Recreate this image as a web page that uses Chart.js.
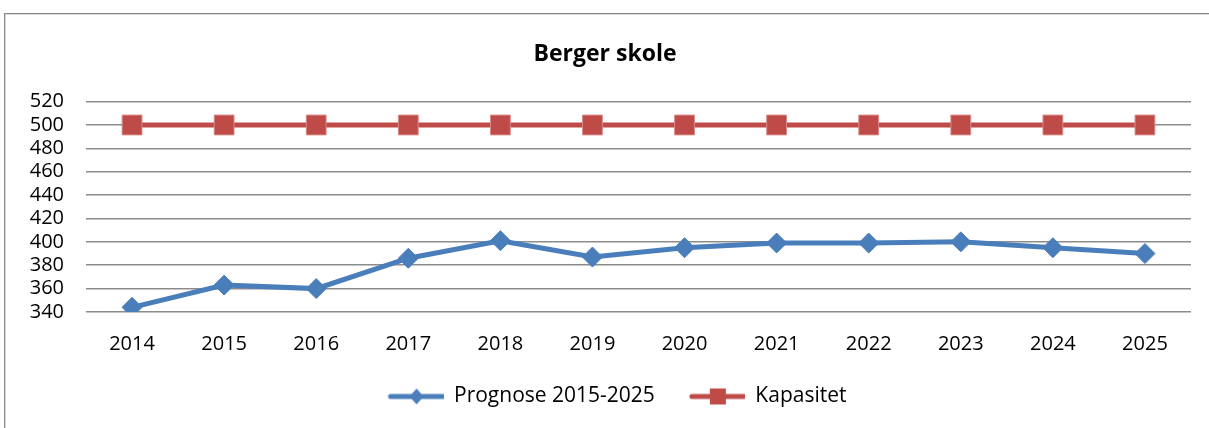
<!DOCTYPE html>
<html lang="no">
<head>
  <meta charset="UTF-8">
  <title>Berger skole</title>
  <script src="https://cdn.jsdelivr.net/npm/chart.js"></script>
  <style>
    body{margin:0;background:#fff;}
    .wrap{position:relative;width:1209px;height:428px;overflow:hidden;}
    .frame{position:absolute;left:4px;top:13px;width:1230px;height:440px;border:1px solid #8a8a8a;box-shadow:inset 1px 1px 0 #d9d9d9;}
    .chartBox{position:absolute;left:0;top:0;width:1209px;height:428px;}
  </style>
</head>
<body>
  <div class="wrap">
    <div class="frame"></div>
    <div class="chartBox">
      <canvas id="myChart"></canvas>
    </div>
  </div>
  <script>
    // data
    const years = ['2014','2015','2016','2017','2018','2019','2020','2021','2022','2023','2024','2025'];
    const prognose = [344, 363, 360, 386, 401, 387, 395, 399, 399, 400, 395, 390];
    const kapasitet = [500, 500, 500, 500, 500, 500, 500, 500, 500, 500, 500, 500];
    const yTicks = [340, 360, 380, 400, 420, 440, 460, 480, 500, 520];

    const blue = '#4a7ebb';
    const red = '#be4b48';
    const FONT = '"Open Sans", "Noto Sans", sans-serif';

    // legend icon: line with marker in the middle (blank space on the left for item gap)
    function legendIcon(color, style){
      const c = document.createElement('canvas');
      c.width = 80; c.height = 20;
      const g = c.getContext('2d');
      g.strokeStyle = color;
      g.lineWidth = 5;
      g.lineCap = 'round';
      g.beginPath();
      g.moveTo(27, 10); g.lineTo(79, 10);
      g.stroke();
      g.fillStyle = color;
      if(style === 'diamond'){
        g.beginPath();
        g.moveTo(53, 2); g.lineTo(60, 10); g.lineTo(53, 18); g.lineTo(46, 10);
        g.closePath(); g.fill();
      } else {
        g.fillRect(45, 2, 16, 16);
      }
      return c;
    }
    const icons = [legendIcon(blue,'diamond'), legendIcon(red,'square')];

    const data = {
      labels: years,
      datasets: [{
        label: 'Prognose 2015-2025',
        data: prognose,
        borderColor: blue,
        backgroundColor: blue,
        borderWidth: 5,
        pointStyle: 'rectRot',
        pointRadius: 10,
        pointBorderWidth: 1,
        pointBorderColor: blue,
        tension: 0
      },{
        label: 'Kapasitet',
        data: kapasitet,
        borderColor: red,
        backgroundColor: red,
        borderWidth: 5,
        pointStyle: 'rect',
        pointRadius: 14,
        pointBorderWidth: 1,
        pointBorderColor: '#d98a88',
        tension: 0
      }]
    };

    const config = {
      type: 'line',
      data,
      options: {
        responsive: true,
        maintainAspectRatio: false,
        animation: false,
        layout: { padding: { top: 0, left: 19, right: 18, bottom: 11 } },
        scales: {
          x: {
            offset: true,
            grid: { display: false, drawTicks: false },
            border: { display: false },
            ticks: { color: '#000', font: { family: FONT, size: 20 }, padding: 20, maxRotation: 0 },
            afterFit(scale){ scale.height = 64; }
          },
          y: {
            min: 340,
            max: 520,
            afterBuildTicks(scale){ scale.ticks = yTicks.map(v => ({ value: v })); },
            grid: { color: '#8c8c8c', lineWidth: 1.5, drawTicks: false },
            border: { display: false },
            ticks: { color: '#000', font: { family: FONT, size: 20 }, padding: 22, autoSkip: false },
            afterFit(scale){ scale.width = 67; }
          }
        },
        plugins: {
          title: {
            display: true,
            text: 'Berger skole',
            color: '#000',
            font: { family: FONT, size: 23, weight: 'bold' },
            padding: { top: 41, bottom: 33 }
          },
          legend: {
            position: 'bottom',
            labels: {
              usePointStyle: true,
              pointStyleWidth: 80,
              boxHeight: 20,
              padding: 10,
              color: '#000',
              font: { family: FONT, size: 21 },
              generateLabels(chart){
                const items = Chart.defaults.plugins.legend.labels.generateLabels(chart);
                items.forEach((it, i) => { it.pointStyle = icons[i]; });
                return items;
              }
            }
          },
          tooltip: { enabled: false }
        }
      }
    };

    const myChart = new Chart(document.getElementById('myChart'), config);
  </script>
</body>
</html>
